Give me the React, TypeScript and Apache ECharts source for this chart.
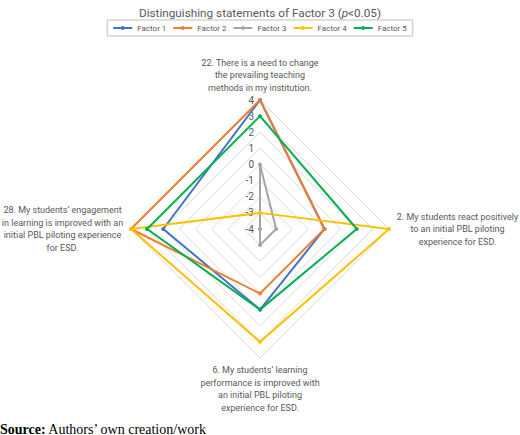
import { useEffect, useRef } from "react";
import * as echarts from "echarts";

// ECharts lays radar indicators out counter-clockwise from the top
const statements = [
  "22. There is a need to change\nthe prevailing teaching\nmethods in my institution.",
  "28. My students’ engagement\nin learning is improved with an\ninitial PBL piloting experience\nfor ESD.",
  "6. My students’ learning\nperformance is improved with\nan initial PBL piloting\nexperience for ESD.",
  "2. My students react positively\nto an initial PBL piloting\nexperience for ESD.",
];

const factorNames = ["Factor 1", "Factor 2", "Factor 3", "Factor 4", "Factor 5"];
const factor1 = [4, 2, 1, 0];
const factor2 = [4, 4, 0, 0];
const factor3 = [0, -4, -3, -3];
const factor4 = [-3, 4, 3, 4];
const factor5 = [3, 3, 1, 2];
const factorValues = [factor1, factor2, factor3, factor4, factor5];
const colors = ["#4472C4", "#ED7D31", "#A5A5A5", "#FFC000", "#00B050"];

const scaleMin = -4;
const scaleMax = 4;

const textGrey = "#595959";
const font = "Roboto, 'Noto Sans', sans-serif";
const legendIcon =
  "path://M0,1.5H7.6V3.5H0Z M11.4,1.5H19V3.5H11.4Z M9.5,0.5A2,2,0,1,1,9.5,4.5A2,2,0,1,1,9.5,0.5Z";

export default function App() {
  const reference = useRef<HTMLDivElement>(null);

  useEffect(() => {
    document.body.style.margin = "0";
    const element = reference.current;
    if (element === null) return;
    const chart = echarts.init(element, undefined, { renderer: "svg" });
    chart.setOption({
      animation: false,
      color: colors,
      title: {
        text: "Distinguishing statements of Factor 3 ({i|p}<0.05)",
        left: "center",
        top: 2,
        textStyle: {
          color: textGrey,
          fontSize: 11.75,
          fontWeight: "normal",
          fontFamily: font,
          rich: {
            i: {
              color: textGrey,
              fontSize: 11.75,
              fontStyle: "italic",
              fontFamily: font,
            },
          },
        },
      },
      legend: {
        top: 20,
        left: "center",
        data: factorNames,
        icon: legendIcon,
        itemWidth: 19,
        itemHeight: 5,
        itemGap: 7,
        padding: [4, 6],
        borderColor: "#bfbfbf",
        borderWidth: 1,
        borderRadius: 0,
        textStyle: { color: textGrey, fontSize: 8, fontFamily: font },
      },
      radar: {
        center: [260, 229],
        radius: 129,
        startAngle: 90,
        shape: "polygon",
        splitNumber: 8,
        nameGap: 6,
        axisName: {
          color: textGrey,
          fontFamily: font,
          fontSize: 9,
          formatter: (name: string) =>
            name
              .split("\n")
              .map((line) => `{c|${line}}`)
              .join("\n"),
          rich: {
            c: {
              width: 125,
              align: "center",
              lineHeight: 12.5,
              fontSize: 9,
              color: textGrey,
              fontFamily: font,
            },
          },
        },
        indicator: statements.map((name, index) => ({
          name,
          min: scaleMin,
          max: scaleMax,
          ...(index === 0
            ? {
                axisLabel: {
                  show: true,
                  color: textGrey,
                  fontSize: 10,
                  fontFamily: font,
                  margin: 6,
                },
              }
            : {}),
        })),
        axisLine: { show: false },
        axisTick: { show: false },
        axisLabel: { show: false },
        splitArea: { show: false },
        splitLine: { lineStyle: { color: "#d9d9d9", width: 1 } },
      },
      graphic: [
        {
          type: "text",
          left: 0,
          top: 422,
          style: {
            text: "{b|Source:} Authors’ own creation/work",
            fill: "#000",
            fontSize: 14,
            fontFamily: "'Liberation Serif', serif",
            rich: {
              b: {
                fontWeight: "bold",
                fontSize: 14,
                fontFamily: "'Liberation Serif', serif",
                fill: "#000",
              },
            },
          },
        },
      ],
      series: factorNames.map((name, index) => ({
        name,
        type: "radar",
        symbol: "circle",
        symbolSize: 4,
        lineStyle: { width: 2 },
        data: [{ name, value: factorValues[index] }],
      })),
    });
    return () => chart.dispose();
  }, []);

  return <div ref={reference} style={{ width: 520, height: 435 }} />;
}
